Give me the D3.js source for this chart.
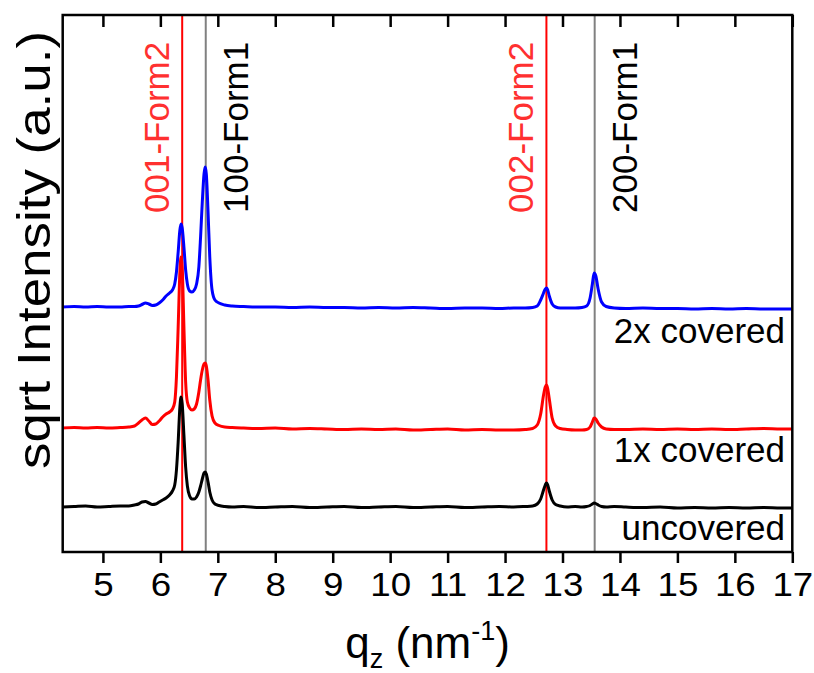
<!DOCTYPE html>
<html>
<head>
<meta charset="utf-8">
<script src="https://cdn.jsdelivr.net/npm/d3@7"></script>
<style>
  body { margin: 0; background: #fff; }
  text { font-family: "Liberation Sans", Arial, sans-serif; }
</style>
</head>
<body>
<div id="viz"></div>
<script>
// q_z grid (nm^-1), shared by the three scans
var qz = [4.30, 4.50, 4.70, 4.90, 5.10, 5.30, 5.45, 5.55, 5.62, 5.68, 5.74, 5.80, 5.86, 5.92, 5.98,
  6.04, 6.10, 6.16, 6.21, 6.25, 6.28, 6.31, 6.34, 6.36, 6.38, 6.41, 6.44, 6.47, 6.51, 6.55,
  6.59, 6.63, 6.67, 6.70, 6.73, 6.76, 6.78, 6.80, 6.83, 6.86, 6.90, 6.95, 7.02, 7.12, 7.25,
  7.45, 7.70, 8.00, 8.30, 8.60, 8.90, 9.20, 9.50, 9.80, 10.10, 10.40, 10.70, 11.00, 11.30, 11.60,
  11.90, 12.15, 12.35, 12.48, 12.56, 12.62, 12.67, 12.70, 12.72, 12.74, 12.77, 12.82, 12.88, 12.96, 13.08,
  13.22, 13.34, 13.42, 13.48, 13.52, 13.55, 13.58, 13.62, 13.68, 13.76, 13.90, 14.10, 14.40, 14.70, 15.00,
  15.30, 15.60, 15.90, 16.20, 16.50, 16.80, 17.00];

// sqrt intensity (a.u.), already stacked with offsets
var uncovered = [45, 45.5, 46, 45, 45.5, 46, 46, 47, 48, 50, 50.5, 49, 47.5, 48, 50,
  52, 54, 57, 61, 67, 82, 110, 145, 155, 148, 117, 85, 66, 56, 53,
  53, 55, 60, 66, 73, 79, 80, 78, 70, 60, 52, 48, 46.5, 45.5, 45,
  45.5, 44.5, 45, 45.5, 44.5, 45, 45.5, 44.5, 45, 45.5, 44.5, 45, 45.5, 44.5, 45,
  45.5, 45, 45.5, 46, 48, 53, 62, 67, 69, 67.5, 61, 52, 47.5, 46, 45,
  45.5, 45, 45.5, 46.5, 48, 49, 48.5, 47, 45.5, 45, 45.5, 45, 44.5, 45, 44,
  44.5, 44, 44.5, 44, 44.5, 44, 44];

var covered1x = [124, 124.5, 124, 124.5, 124, 124.5, 125, 126, 129, 132, 134, 131, 127.5, 128, 131,
  135, 138, 140, 143, 150, 175, 225, 280, 295, 285, 225, 170, 150, 144, 142,
  143, 148, 160, 172, 182, 188, 189, 186, 172, 152, 136, 129, 126.5, 125, 124.5,
  124, 123.5, 124, 123, 123.5, 123, 122.5, 123, 122.5, 123, 122, 122.5, 123, 122, 122.5,
  122, 122, 122.5, 123.5, 127, 138, 157, 165, 167, 164, 153, 134, 126, 123.5, 122.5,
  122, 122, 122.5, 125, 130, 134, 133, 129, 125, 123, 122.5, 122.5, 123, 122.5, 123,
  122.5, 123, 122.5, 123, 123.5, 123, 123];

var covered2x = [245, 245.5, 245, 245.5, 245, 245, 245.5, 245.5, 246, 247.5, 249, 248, 246.5, 247, 249,
  252, 256, 259, 262, 268, 280, 300, 322, 328, 324, 305, 282, 268, 261, 260,
  262, 268, 285, 315, 350, 378, 385, 378, 340, 295, 262, 252, 249, 247, 246,
  245.5, 245, 245, 244.5, 245, 244.5, 244.5, 244, 244.5, 244, 244.5, 244, 243.5, 244, 244,
  243.5, 244, 244, 244.5, 246, 252, 259, 263, 264, 262.5, 256, 248, 245, 244, 244,
  244, 244.5, 246, 254, 268, 279, 276, 263, 250, 245.5, 244, 243.5, 244, 243.5, 243.5,
  243, 243.5, 243, 243.5, 243, 243, 243];

var seriesNames = ["2x covered", "1x covered", "uncovered"];
var seriesColors = ["#0000ff", "#ff0000", "#000000"];
var seriesLabelY = [245 - 36, 124 - 34, 45 - 33];

// reflection positions (nm^-1)
var refPos = [6.38, 6.79, 12.72, 13.56];
var refNames = ["001-Form2", "100-Form1", "002-Form2", "200-Form1"];
var refColors = ["#ff0000", "#808080", "#ff0000", "#808080"];
var refTextColors = ["#ff3030", "#000000", "#ff3030", "#000000"];

var xTicks = d3.range(5, 18);

var width = 814, height = 673;
var mLeft = 62.7, mRight = 792.3, mTop = 15, mBottom = 552;

var svg = d3.select("#viz").append("svg")
  .attr("width", width)
  .attr("height", height);

svg.append("rect").attr("width", width).attr("height", height).attr("fill", "#fff");

var x = d3.scaleLinear().domain([4.3, 17]).range([mLeft, mRight]);
var y = d3.scaleLinear().domain([0, 537]).range([mBottom, mTop]);

// reference lines
svg.selectAll("line.ref")
  .data(refPos)
  .enter()
  .append("line")
    .attr("class", "ref")
    .attr("x1", function(d) { return x(d); })
    .attr("x2", function(d) { return x(d); })
    .attr("y1", mTop)
    .attr("y2", mBottom)
    .attr("stroke", function(d, i) { return refColors[i]; })
    .attr("stroke-width", 2);

svg.selectAll("text.ref")
  .data(refPos)
  .enter()
  .append("text")
    .attr("class", "ref")
    .attr("transform", function(d, i) {
      var bx = i % 2 == 0 ? x(d) - 13 : x(d) + 42;
      return "translate(" + bx + ",213) rotate(-90)";
    })
    .attr("font-size", 35)
    .attr("fill", function(d, i) { return refTextColors[i]; })
    .text(function(d, i) { return refNames[i]; });

// scans
var series = [covered2x, covered1x, uncovered];
var line = d3.line()
  .x(function(d, i) { return x(qz[i]); })
  .y(function(d) { return y(d); })
  .curve(d3.curveMonotoneX);

svg.selectAll("path.scan")
  .data(series)
  .enter()
  .append("path")
    .attr("class", "scan")
    .attr("d", line)
    .attr("fill", "none")
    .attr("stroke", function(d, i) { return seriesColors[i]; })
    .attr("stroke-width", 3)
    .attr("stroke-linejoin", "round");

svg.selectAll("text.name")
  .data(seriesNames)
  .enter()
  .append("text")
    .attr("class", "name")
    .attr("x", 785)
    .attr("y", function(d, i) { return y(seriesLabelY[i]); })
    .attr("text-anchor", "end")
    .attr("font-size", 35)
    .text(function(d) { return d; });

// axes
var xAxis = svg.append("g")
  .attr("transform", "translate(0," + mBottom + ")")
  .call(d3.axisBottom(x).tickValues(xTicks).tickSize(11).tickSizeOuter(0).tickPadding(9));
xAxis.select(".domain").remove();
xAxis.selectAll("line").attr("stroke", "#000").attr("stroke-width", 2.5);
// labels in the original are a bit wider than Arial
xAxis.selectAll(".tick text")
  .attr("font-size", 34)
  .attr("font-family", "Liberation Sans, Arial, sans-serif")
  .attr("fill", "#000")
  .attr("transform", "scale(1.08,1)");

var topAxis = svg.append("g")
  .attr("transform", "translate(0," + mTop + ")")
  .call(d3.axisTop(x).tickValues(xTicks).tickSize(-12).tickFormat(""));
topAxis.select(".domain").remove();
topAxis.selectAll("line").attr("stroke", "#000").attr("stroke-width", 2.5);

svg.append("rect")
  .attr("x", mLeft).attr("y", mTop)
  .attr("width", mRight - mLeft).attr("height", mBottom - mTop)
  .attr("fill", "none")
  .attr("stroke", "#000")
  .attr("stroke-width", 2.5);

// axis titles
var xt = svg.append("text")
  .attr("x", (mLeft + mRight) / 2)
  .attr("y", 658)
  .attr("text-anchor", "middle")
  .attr("font-size", 44);
xt.append("tspan").text("q");
xt.append("tspan").attr("font-size", 27).attr("dy", 10).text("z");
xt.append("tspan").attr("dy", -10).text(" (nm");
xt.append("tspan").attr("font-size", 27).attr("dy", -18).text("-1");
xt.append("tspan").attr("dy", 18).text(")");

svg.append("text")
  .attr("transform", "translate(50,250) rotate(-90) scale(1.15,1)")
  .attr("text-anchor", "middle")
  .attr("font-size", 46)
  .text("sqrt Intensity (a.u.)");
</script>
</body>
</html>
